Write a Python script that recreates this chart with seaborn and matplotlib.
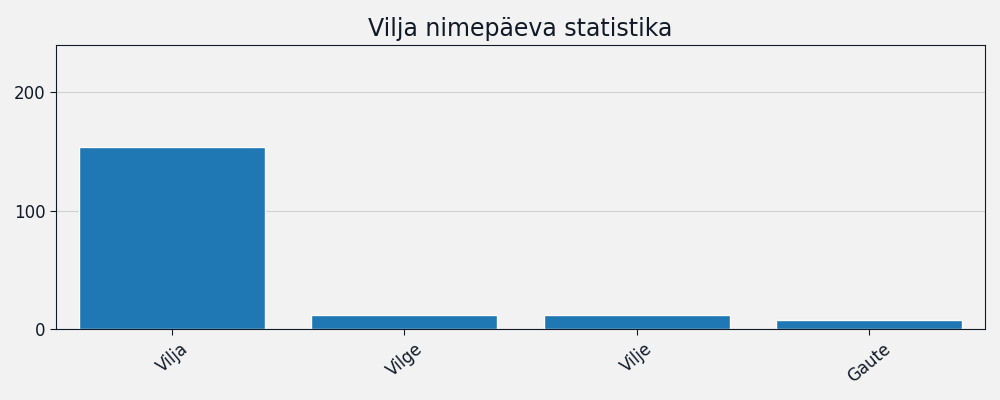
import matplotlib
matplotlib.use("Agg")
import matplotlib.pyplot as plt
import seaborn as sns
import pandas as pd

names = ["Vilja", "Vilge", "Vilje", "Gaute"]
counts = [154, 12, 12, 8]

df = pd.DataFrame({"name": names, "count": counts})

sns.set_style("white")
plt.rcParams['font.family'] = ['DejaVu Sans']

fig, ax = plt.subplots(figsize=(10, 4), dpi=100)
fig.patch.set_facecolor("#f2f2f2")
ax.set_facecolor("#f2f2f2")

sns.barplot(data=df, x="name", y="count", color="#1f77b4", saturation=1, width=0.8, ax=ax)

ax.set_ylim(0, 240)
ax.set_yticks([0, 100, 200])
ax.yaxis.grid(True, color="#d0d0d0", linewidth=0.8)
ax.set_axisbelow(True)
ax.set_xlabel("")
ax.set_ylabel("")
ax.set_title("Vilja nimepäeva statistika", fontsize=17, color="#111827")
ax.tick_params(axis="x", labelrotation=40, labelsize=12, colors="#111827", length=4, bottom=True)
ax.tick_params(axis="y", labelsize=12, colors="#111827", length=4, left=True)
for s in ax.spines.values():
    s.set_color("#111827")
    s.set_linewidth(0.8)

fig.subplots_adjust(left=0.056, right=0.985, top=0.888, bottom=0.177)
fig.savefig("out.png", facecolor=fig.get_facecolor())
